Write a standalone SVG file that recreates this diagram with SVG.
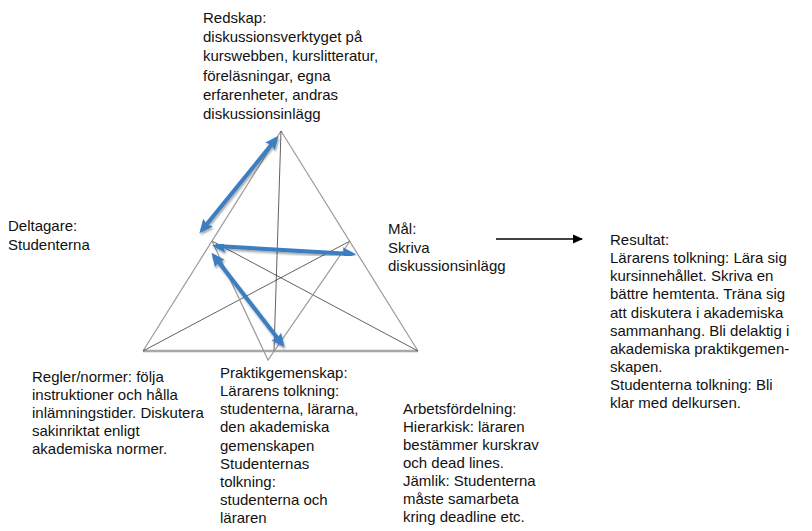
<svg xmlns="http://www.w3.org/2000/svg" width="812" height="531" viewBox="0 0 812 531">
<defs>
<style>
text{font-family:"Liberation Sans",Arial,sans-serif;font-size:15px;fill:#111}
.side{stroke:#9a9a9a;stroke-width:1.2;fill:none}
.base{stroke:#a8a8a8;stroke-width:2.5;fill:none}
.med{stroke:#3a3a3a;stroke-width:0.8;fill:none}
.blue{stroke:#3b7ec2;stroke-width:4;fill:none;marker-start:url(#bh);marker-end:url(#bh);filter:url(#sh)}
.black{stroke:#000;stroke-width:1.5;fill:none;marker-end:url(#kh)}
</style>
<marker id="bh" viewBox="0 0 10 10" refX="7" refY="5" markerWidth="3.4" markerHeight="3.4" orient="auto-start-reverse" markerUnits="strokeWidth">
<path d="M0,0.5 L10,5 L0,9.5 L1.5,5 Z" fill="#3b7ec2"/>
</marker>
<marker id="kh" viewBox="0 0 10 10" refX="9" refY="5" markerWidth="10" markerHeight="10" orient="auto" markerUnits="userSpaceOnUse">
<path d="M0,0.5 L10,5 L0,9.5 Z" fill="#000"/>
</marker>
<filter id="sh" x="-20%" y="-20%" width="140%" height="140%">
<feGaussianBlur in="SourceAlpha" stdDeviation="1.2"/>
<feOffset dx="1" dy="1.5" result="b"/>
<feComponentTransfer><feFuncA type="linear" slope="0.35"/></feComponentTransfer>
<feMerge><feMergeNode/><feMergeNode in="SourceGraphic"/></feMerge>
</filter>
</defs>
<rect width="812" height="531" fill="#fff"/>
<g id="connectors">
<line class="side" x1="281" y1="131" x2="143" y2="351"/>
<line class="side" x1="281" y1="131" x2="418" y2="351"/>
<line class="base" x1="143" y1="351" x2="418" y2="351"/>
<line class="med" x1="281" y1="131" x2="274" y2="351"/>
<line class="med" x1="212" y1="241" x2="418" y2="351"/>
<line class="med" x1="350" y1="241" x2="143" y2="351"/>
<polyline class="side" points="212,241 268,360 350,241"/>
<line class="blue" x1="276" y1="139" x2="202" y2="230"/>
<line class="blue" x1="216" y1="246" x2="352" y2="254"/>
<line class="blue" x1="214" y1="256" x2="282" y2="344"/>
<line class="black" x1="496" y1="239" x2="582" y2="239"/>
</g>
<g id="redskap">
<text x="203" y="23">Redskap:</text>
<text x="203" y="42">diskussionsverktyget på</text>
<text x="203" y="61">kurswebben, kurslitteratur,</text>
<text x="203" y="81">föreläsningar, egna</text>
<text x="203" y="100">erfarenheter, andras</text>
<text x="203" y="119">diskussionsinlägg</text>
</g>
<g id="deltagare">
<text x="8" y="231">Deltagare:</text>
<text x="8" y="250">Studenterna</text>
</g>
<g id="mal">
<text x="388" y="234">Mål:</text>
<text x="388" y="253">Skriva</text>
<text x="388" y="271">diskussionsinlägg</text>
</g>
<g id="resultat">
<text x="610" y="245">Resultat:</text>
<text x="610" y="263">Lärarens tolkning: Lära sig</text>
<text x="610" y="281">kursinnehållet. Skriva en</text>
<text x="610" y="299">bättre hemtenta. Träna sig</text>
<text x="610" y="318">att diskutera i akademiska</text>
<text x="610" y="336">sammanhang. Bli delaktig i</text>
<text x="610" y="354">akademiska praktikgemen-</text>
<text x="610" y="372">skapen.</text>
<text x="610" y="390">Studenterna tolkning: Bli</text>
<text x="610" y="408">klar med delkursen.</text>
</g>
<g id="regler">
<text x="32" y="382">Regler/normer: följa</text>
<text x="32" y="400">instruktioner och hålla</text>
<text x="32" y="418">inlämningstider. Diskutera</text>
<text x="32" y="436">sakinriktat enligt</text>
<text x="32" y="454">akademiska normer.</text>
</g>
<g id="praktikgemenskap">
<text x="220" y="378">Praktikgemenskap:</text>
<text x="220" y="396">Lärarens tolkning:</text>
<text x="220" y="414">studenterna, lärarna,</text>
<text x="220" y="432">den akademiska</text>
<text x="220" y="451">gemenskapen</text>
<text x="220" y="469">Studenternas</text>
<text x="220" y="487">tolkning:</text>
<text x="220" y="505">studenterna och</text>
<text x="220" y="523">läraren</text>
</g>
<g id="arbetsfordelning">
<text x="403" y="414">Arbetsfördelning:</text>
<text x="403" y="432">Hierarkisk: läraren</text>
<text x="403" y="450">bestämmer kurskrav</text>
<text x="403" y="468">och dead lines.</text>
<text x="403" y="486">Jämlik: Studenterna</text>
<text x="403" y="504">måste samarbeta</text>
<text x="403" y="522">kring deadline etc.</text>
</g>
</svg>
